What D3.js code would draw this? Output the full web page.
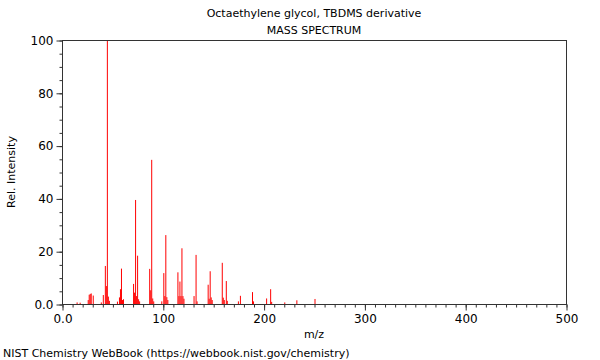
<!DOCTYPE html>
<html>
<head>
<meta charset="utf-8">
<script src="https://cdn.jsdelivr.net/npm/d3@7"></script>
<style>
  body { margin: 0; background: #fff; }
  svg { display: block; font-family: "DejaVu Sans", sans-serif; }
</style>
</head>
<body>
<svg id="chart" width="600" height="360"></svg>
<script>
const title = "Octaethylene glycol, TBDMS derivative";
const subtitle = "MASS SPECTRUM";
const xLabel = "m/z";
const yLabel = "Rel. Intensity";
const footer = "NIST Chemistry WebBook (https://webbook.nist.gov/chemistry)";

const mz = [15, 18, 26, 27, 28, 29, 31, 39, 41, 43, 44, 45, 46, 47,
  55, 57, 58, 59, 60, 61, 71, 72, 73, 74, 75, 76, 77,
  87, 88, 89, 90, 91, 99, 101, 102, 103, 104, 105,
  115, 116, 117, 118, 119, 120, 121, 131, 133, 134,
  145, 146, 147, 148, 149, 159, 160, 161, 163, 164,
  175, 177, 189, 190, 203, 207, 208, 221, 233, 251];
const intensity = [0.6, 0.5, 1.5, 3.5, 3.8, 4.0, 3.2, 0.6, 3.4, 14.4, 6.8, 100, 2.8, 1.2,
  0.9, 2.5, 5.6, 13.4, 1.5, 1.8, 7.6, 4.3, 39.4, 3.0, 18.3, 1.8, 1.0,
  13.3, 5.2, 54.6, 2.1, 1.0, 1.0, 11.7, 3.0, 26.1, 2.6, 1.5,
  12.0, 3.0, 8.5, 3.0, 21.1, 3.0, 2.0, 3.0, 18.6, 1.0,
  7.3, 2.0, 12.4, 2.5, 1.5, 15.6, 2.4, 1.5, 8.7, 1.2,
  1.0, 3.1, 4.5, 1.0, 2.1, 5.6, 0.8, 0.6, 1.4, 1.9];

const xTicks = [0, 100, 200, 300, 400, 500];
const xTickLabels = ["0.0", "100", "200", "300", "400", "500"];
const yTicks = [0, 20, 40, 60, 80, 100];
const yTickLabels = ["0.0", "20", "40", "60", "80", "100"];

const svg = d3.select("#chart");
const pLeft = 62, pRight = 566, pTop = 40, pBottom = 304;
const x = d3.scaleLinear().domain([0, 500]).range([pLeft, pRight]);
const y = d3.scaleLinear().domain([0, 100]).range([pBottom, pTop]);
const axisColor = "#333";

// peaks
svg.append("g").selectAll("line").data(mz).join("line")
  .attr("x1", d => x(d)).attr("x2", d => x(d))
  .attr("y1", y(0))
  .attr("y2", (d, i) => y(intensity[i]))
  .attr("stroke", "#ff0000").attr("stroke-width", 1);

// frame
svg.append("rect").attr("x", pLeft + 0.5).attr("y", pTop + 0.5)
  .attr("width", pRight - pLeft).attr("height", pBottom - pTop)
  .attr("fill", "none").attr("stroke", axisColor).attr("stroke-width", 1);

// x axis
svg.append("g").attr("transform", `translate(0.5,${pBottom + 0.5})`)
  .call(d3.axisBottom(x).tickValues(d3.range(0, 501, 10)).tickSize(3).tickFormat(""))
  .call(g => g.select(".domain").remove())
  .call(g => g.selectAll("line").attr("stroke", axisColor));
svg.append("g").attr("transform", `translate(0.5,${pBottom + 0.5})`)
  .call(d3.axisBottom(x).tickValues(xTicks).tickSize(6).tickPadding(4)
    .tickFormat((d, i) => xTickLabels[i]))
  .call(g => g.select(".domain").remove())
  .call(g => g.selectAll("line").attr("stroke", axisColor))
  .call(g => g.selectAll("text").attr("font-size", 12).attr("fill", "#000")
    .attr("font-family", "DejaVu Sans"));

// y axis
svg.append("g").attr("transform", `translate(${pLeft + 0.5},0.5)`)
  .call(d3.axisLeft(y).tickValues(d3.range(0, 101, 5)).tickSize(3).tickFormat(""))
  .call(g => g.select(".domain").remove())
  .call(g => g.selectAll("line").attr("stroke", axisColor));
svg.append("g").attr("transform", `translate(${pLeft + 0.5},0.5)`)
  .call(d3.axisLeft(y).tickValues(yTicks).tickSize(6).tickPadding(3)
    .tickFormat((d, i) => yTickLabels[i]))
  .call(g => g.select(".domain").remove())
  .call(g => g.selectAll("line").attr("stroke", axisColor))
  .call(g => g.selectAll("text").attr("font-size", 12).attr("fill", "#000")
    .attr("font-family", "DejaVu Sans"));

// titles
svg.append("text").attr("x", 314).attr("y", 17).attr("text-anchor", "middle")
  .attr("font-size", 11).text(title);
svg.append("text").attr("x", 314).attr("y", 34).attr("text-anchor", "middle")
  .attr("font-size", 11).text(subtitle);
svg.append("text").attr("x", 314).attr("y", 338).attr("text-anchor", "middle")
  .attr("font-size", 11).text(xLabel);
svg.append("text").attr("transform", `translate(15,172) rotate(-90)`)
  .attr("text-anchor", "middle").attr("font-size", 11).text(yLabel);
svg.append("text").attr("x", 3).attr("y", 357).attr("font-size", 11).text(footer);
</script>
</body>
</html>
